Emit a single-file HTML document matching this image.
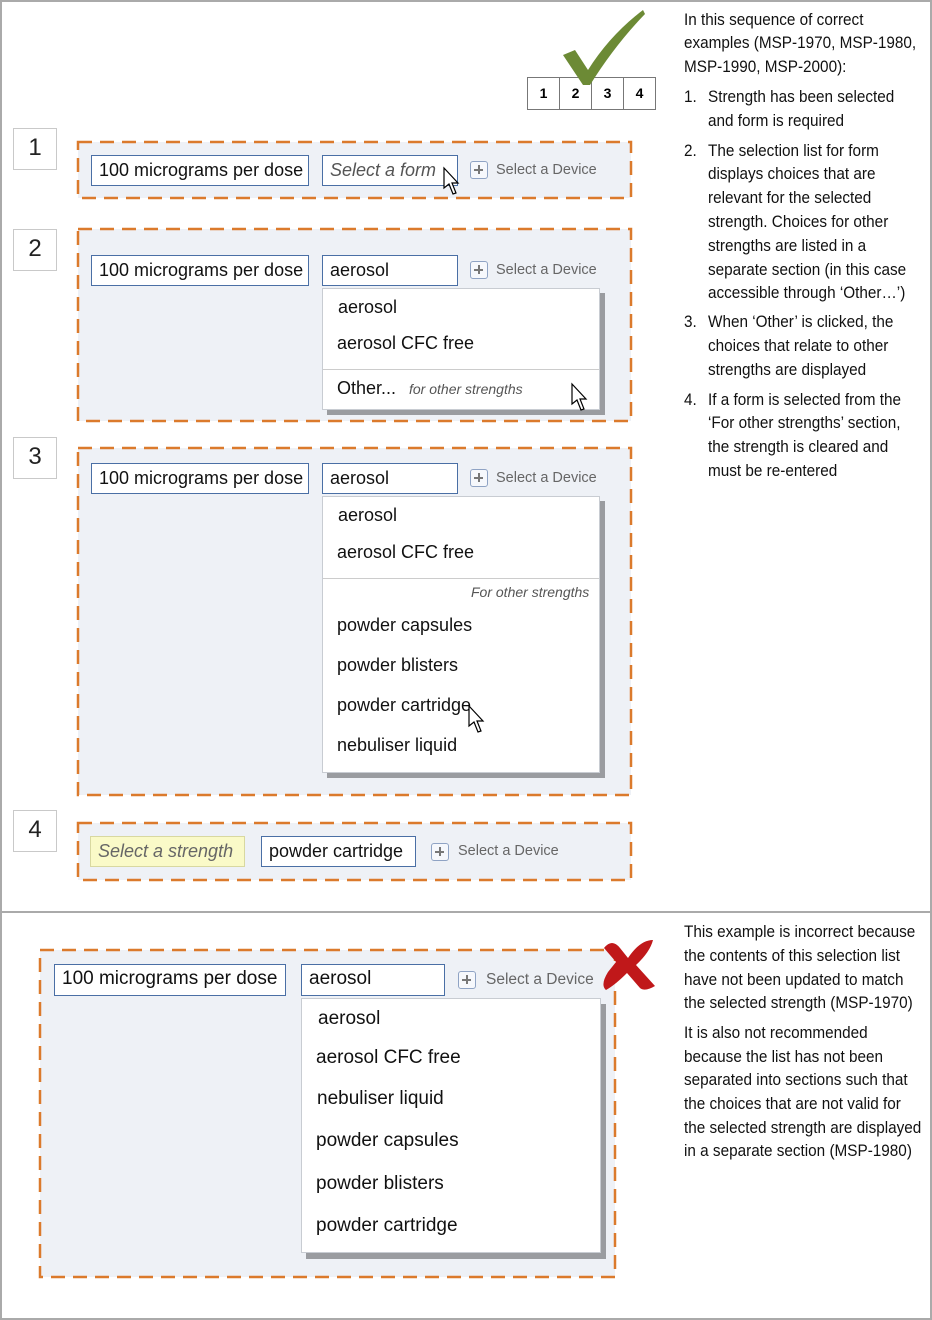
<!DOCTYPE html>
<html><head><meta charset="utf-8"><style>
*{margin:0;padding:0;box-sizing:border-box}
body{width:932px;height:1320px;background:#fff;position:relative;overflow:hidden;font-family:"Liberation Sans",sans-serif}
.a{position:absolute}
.pnl{position:absolute;background:#eef1f6}
.f{position:absolute;background:#fff;border:1.5px solid #4a6fa5;font-size:18px;line-height:28px;padding-left:7px;color:#111;white-space:nowrap}
.dev{position:absolute;font-size:14.5px;color:#666;white-space:nowrap}
.plus{position:absolute;width:18px;height:18px;border:1.5px solid #8fa3c4;border-radius:3px;background:#f6f8fc}
.plus:before{content:"";position:absolute;left:3px;top:7px;width:9px;height:1.6px;background:#777}
.plus:after{content:"";position:absolute;left:7px;top:3px;width:1.6px;height:9px;background:#777}
.dd{position:absolute;background:#fff;border:1px solid #c8ccd2;box-shadow:5px 5px 0 #9a9ca0}
.it{position:absolute;font-size:18px;color:#111;white-space:nowrap}
.num{position:absolute;width:44px;height:42px;border:1.5px solid #c9c9c9;background:#fff;font-size:24px;color:#222;text-align:center;line-height:38px}
.tx{position:absolute;left:684px;font-size:17px;color:#111;white-space:nowrap;line-height:20px;transform:scaleX(0.9);transform-origin:0 0}
.tab{position:absolute;top:77px;width:33px;height:33px;border:1.5px solid #777;background:#fff;font-weight:bold;font-size:14px;text-align:center;line-height:30px}
</style></head><body>
<div class="a" style="left:0;top:0;width:932px;height:1320px;border:2px solid #aaa"></div>
<div class="a" style="left:0;top:911px;width:932px;height:2px;background:#aaa"></div>

<div class="pnl" style="left:78px;top:142px;width:553px;height:56px"></div>
<div class="pnl" style="left:78px;top:229px;width:553px;height:192px"></div>
<div class="pnl" style="left:78px;top:448px;width:553px;height:347px"></div>
<div class="pnl" style="left:78px;top:823px;width:553px;height:57px"></div>
<div class="pnl" style="left:40px;top:950px;width:575px;height:327px"></div>

<div class="tab" style="left:527px">1</div><div class="tab" style="left:559px">2</div><div class="tab" style="left:591px">3</div><div class="tab" style="left:623px">4</div>

<div class="num" style="left:13px;top:128px">1</div>
<div class="num" style="left:13px;top:229px">2</div>
<div class="num" style="left:13px;top:437px">3</div>
<div class="num" style="left:13px;top:810px">4</div>

<div class="f" style="left:91px;top:155px;width:218px;height:31px">100 micrograms per dose</div>
<div class="f" style="left:322px;top:155px;width:136px;height:31px;font-style:italic;color:#555">Select a form</div>
<div class="plus" style="left:470px;top:161px"></div><div class="dev" style="left:496px;top:162px">Select a Device</div>

<div class="f" style="left:91px;top:255px;width:218px;height:31px">100 micrograms per dose</div>
<div class="f" style="left:322px;top:255px;width:136px;height:31px">aerosol</div>
<div class="plus" style="left:470px;top:261px"></div><div class="dev" style="left:496px;top:262px">Select a Device</div>
<div class="dd" style="left:322px;top:288px;width:278px;height:122px"></div>
<div class="a" style="left:323px;top:369px;width:276px;height:1px;background:#ccc"></div>
<div class="it" style="left:338px;top:297px">aerosol</div>
<div class="it" style="left:337px;top:333px">aerosol CFC free</div>
<div class="it" style="left:337px;top:378px">Other...</div>
<div class="it" style="left:409px;top:381px;font-size:14px;font-style:italic;color:#555">for other strengths</div>

<div class="f" style="left:91px;top:463px;width:218px;height:31px">100 micrograms per dose</div>
<div class="f" style="left:322px;top:463px;width:136px;height:31px">aerosol</div>
<div class="plus" style="left:470px;top:469px"></div><div class="dev" style="left:496px;top:470px">Select a Device</div>
<div class="dd" style="left:322px;top:496px;width:278px;height:277px"></div>
<div class="a" style="left:323px;top:578px;width:276px;height:1px;background:#ccc"></div>
<div class="it" style="left:338px;top:505px">aerosol</div>
<div class="it" style="left:337px;top:542px">aerosol CFC free</div>
<div class="it" style="left:471px;top:584px;font-size:14px;font-style:italic;color:#555">For other strengths</div>
<div class="it" style="left:337px;top:615px">powder capsules</div>
<div class="it" style="left:337px;top:655px">powder blisters</div>
<div class="it" style="left:337px;top:695px">powder cartridge</div>
<div class="it" style="left:337px;top:735px">nebuliser liquid</div>

<div class="f" style="left:90px;top:836px;width:155px;height:31px;background:#fafac8;border-color:#d8d8a0;font-style:italic;color:#666">Select a strength</div>
<div class="f" style="left:261px;top:836px;width:155px;height:31px">powder cartridge</div>
<div class="plus" style="left:431px;top:843px"></div><div class="dev" style="left:458px;top:843px">Select a Device</div>

<div class="f" style="left:54px;top:964px;width:232px;height:32px;font-size:19px">100 micrograms per dose</div>
<div class="f" style="left:301px;top:964px;width:144px;height:32px;font-size:19px">aerosol</div>
<div class="plus" style="left:458px;top:971px"></div><div class="dev" style="left:486px;top:971px;font-size:15.5px">Select a Device</div>
<div class="dd" style="left:301px;top:998px;width:300px;height:255px;box-shadow:5px 6px 0 #9a9ca0"></div>
<div class="it" style="left:318px;top:1008px;font-size:19px">aerosol</div>
<div class="it" style="left:316px;top:1047px;font-size:19px">aerosol CFC free</div>
<div class="it" style="left:317px;top:1088px;font-size:19px">nebuliser liquid</div>
<div class="it" style="left:316px;top:1130px;font-size:19px">powder capsules</div>
<div class="it" style="left:316px;top:1173px;font-size:19px">powder blisters</div>
<div class="it" style="left:316px;top:1215px;font-size:19px">powder cartridge</div>

<svg class="a" style="left:0;top:0" width="932" height="1320">
<g fill="none" stroke="#db7a2c" stroke-width="2.5" stroke-dasharray="14 8">
<rect x="78" y="142" width="553" height="56"/>
<rect x="78" y="229" width="553" height="192"/>
<rect x="78" y="448" width="553" height="347"/>
<rect x="78" y="823" width="553" height="57"/>
<rect x="40" y="950" width="575" height="327"/>
</g>
<path d="M563 55 L575 50 L588 70 Q610 35 643 10 L645 14 Q615 45 590 85 L583 85 Z" fill="#6c8a35"/>
<path d="M604 948 Q612 938 620 948 L628 958 Q640 940 653 940 Q650 952 636 965 L655 986 Q645 992 640 988 L627 973 Q615 985 606 990 Q600 985 608 972 L616 962 Z" fill="#c0181a"/>
<g fill="#fff" stroke="#000" stroke-width="1.2">
<path d="M444 168 L444 188 L449 184 L453 194 L456 193 L452 183 L458 183 Z"/>
<path d="M572 384 L572 404 L577 400 L581 410 L584 409 L580 399 L586 399 Z"/>
<path d="M469 706 L469 726 L474 722 L478 732 L481 731 L477 721 L483 721 Z"/>
</g>
</svg>

<div class="tx" style="top:10px">In this sequence of correct</div>
<div class="tx" style="top:33px">examples (MSP-1970, MSP-1980,</div>
<div class="tx" style="top:57px">MSP-1990, MSP-2000):</div>
<div class="tx" style="top:87px">1.</div><div class="tx" style="top:87px;left:708px">Strength has been selected</div>
<div class="tx" style="top:111px;left:708px">and form is required</div>
<div class="tx" style="top:141px">2.</div><div class="tx" style="top:141px;left:708px">The selection list for form</div>
<div class="tx" style="top:164px;left:708px">displays choices that are</div>
<div class="tx" style="top:188px;left:708px">relevant for the selected</div>
<div class="tx" style="top:212px;left:708px">strength. Choices for other</div>
<div class="tx" style="top:236px;left:708px">strengths are listed in a</div>
<div class="tx" style="top:260px;left:708px">separate section (in this case</div>
<div class="tx" style="top:283px;left:708px">accessible through ‘Other…’)</div>
<div class="tx" style="top:312px">3.</div><div class="tx" style="top:312px;left:708px">When ‘Other’ is clicked, the</div>
<div class="tx" style="top:336px;left:708px">choices that relate to other</div>
<div class="tx" style="top:360px;left:708px">strengths are displayed</div>
<div class="tx" style="top:390px">4.</div><div class="tx" style="top:390px;left:708px">If a form is selected from the</div>
<div class="tx" style="top:413px;left:708px">‘For other strengths’ section,</div>
<div class="tx" style="top:437px;left:708px">the strength is cleared and</div>
<div class="tx" style="top:461px;left:708px">must be re-entered</div>

<div class="tx" style="top:922px">This example is incorrect because</div>
<div class="tx" style="top:946px">the contents of this selection list</div>
<div class="tx" style="top:970px">have not been updated to match</div>
<div class="tx" style="top:993px">the selected strength (MSP-1970)</div>
<div class="tx" style="top:1023px">It is also not recommended</div>
<div class="tx" style="top:1047px">because the list has not been</div>
<div class="tx" style="top:1070px">separated into sections such that</div>
<div class="tx" style="top:1094px">the choices that are not valid for</div>
<div class="tx" style="top:1118px">the selected strength are displayed</div>
<div class="tx" style="top:1141px">in a separate section (MSP-1980)</div>
</body></html>
